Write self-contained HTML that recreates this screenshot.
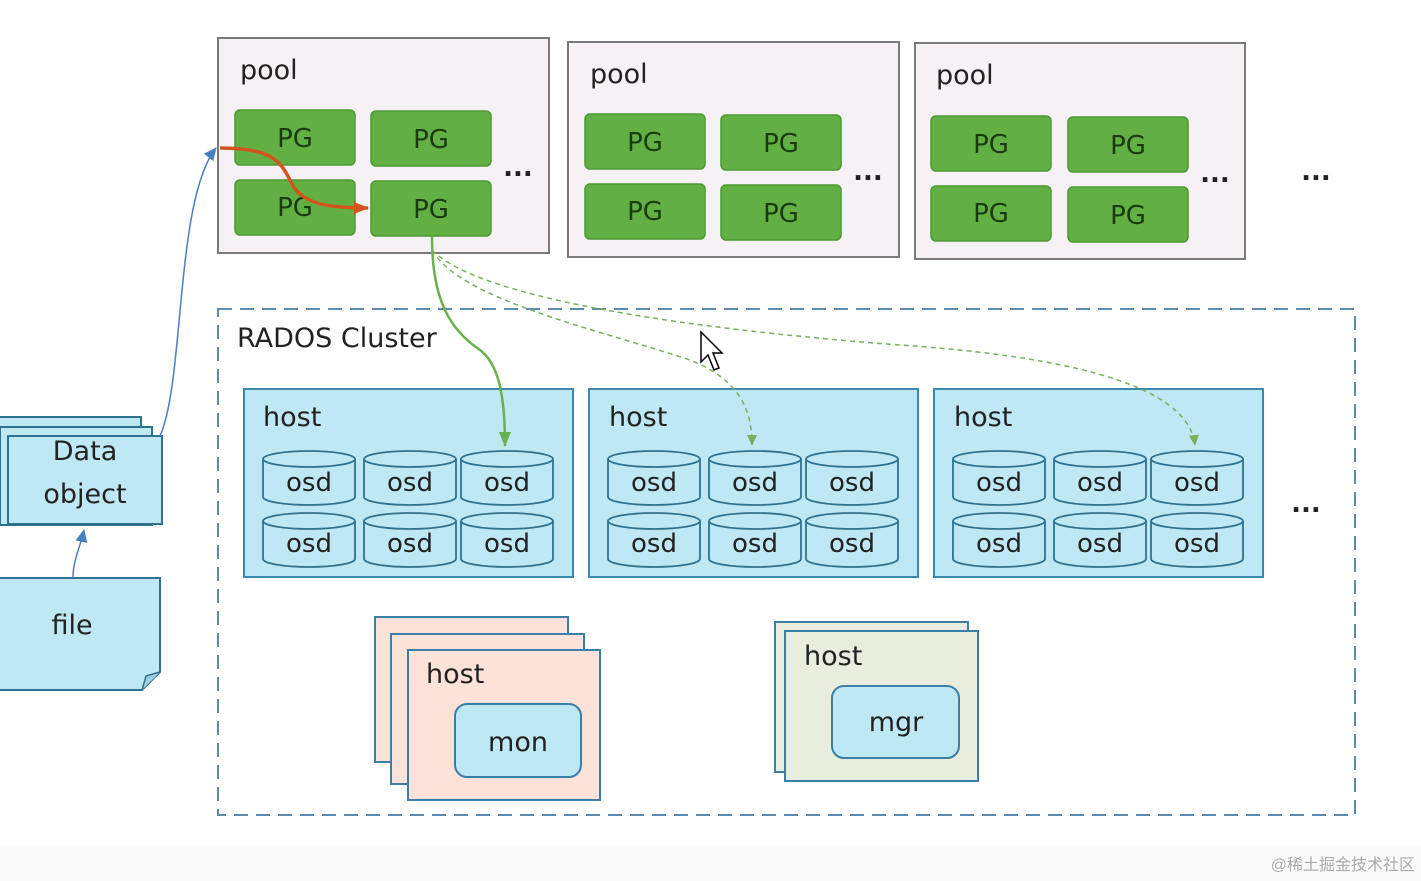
<!DOCTYPE html>
<html><head><meta charset="utf-8"><style>
body{margin:0;background:#fff;}
svg{display:block;font-family:"DejaVu Sans","Liberation Sans",sans-serif;}
</style></head><body>
<svg width="1421" height="881" viewBox="0 0 1421 881" xmlns="http://www.w3.org/2000/svg">
<defs>
<marker id="ab" markerUnits="userSpaceOnUse" markerWidth="14" markerHeight="14" refX="12" refY="7" orient="auto"><path d="M0,1 L13,7 L0,13 z" fill="#4a7fc0"/></marker>
<marker id="ao" markerUnits="userSpaceOnUse" markerWidth="16" markerHeight="16" refX="14" refY="8" orient="auto"><path d="M0,2 L15,8 L0,14 z" fill="#d2541e"/></marker>
<marker id="ag" markerUnits="userSpaceOnUse" markerWidth="16" markerHeight="16" refX="14" refY="8" orient="auto"><path d="M0,2 L15,8 L0,14 z" fill="#6ab04c"/></marker>
<marker id="ag2" markerUnits="userSpaceOnUse" markerWidth="12" markerHeight="12" refX="10" refY="6" orient="auto"><path d="M0,1 L11,6 L0,11 z" fill="#7ab05c"/></marker>
<g id="pg"><rect x="0" y="0" width="120" height="55" rx="5" fill="#62b043" stroke="#4a9a30" stroke-width="1.5"/></g>
<g id="osd">
<path d="M0,8 L0,46 A46,8 0 0 0 92,46 L92,8" fill="#bfe8f5" stroke="#2f7290" stroke-width="1.8"/>
<ellipse cx="46" cy="8" rx="46" ry="8" fill="#bfe8f5" stroke="#2f7290" stroke-width="1.8"/>
</g>
</defs>
<rect width="1421" height="881" fill="#fff"/>
<rect x="0" y="845" width="1421" height="36" fill="#fafafa"/>

<g font-size="27" fill="#222">
<rect x="218" y="38" width="331" height="215" fill="#f5f1f4" stroke="#7a7a7a" stroke-width="2"/>
<text x="240" y="79">pool</text>
<rect x="568" y="42" width="331" height="215" fill="#f5f1f4" stroke="#7a7a7a" stroke-width="2"/>
<text x="590" y="83">pool</text>
<rect x="915" y="43" width="330" height="216" fill="#f5f1f4" stroke="#7a7a7a" stroke-width="2"/>
<text x="936" y="84">pool</text>
</g>
<g font-size="26" fill="#1a3a10" text-anchor="middle">
<use href="#pg" x="235" y="110"/><text x="295" y="147">PG</text>
<use href="#pg" x="371" y="111"/><text x="431" y="148">PG</text>
<use href="#pg" x="235" y="180"/><text x="295" y="216">PG</text>
<use href="#pg" x="371" y="181"/><text x="431" y="218">PG</text>
<use href="#pg" x="585" y="114"/><text x="645" y="151">PG</text>
<use href="#pg" x="721" y="115"/><text x="781" y="152">PG</text>
<use href="#pg" x="585" y="184"/><text x="645" y="220">PG</text>
<use href="#pg" x="721" y="185"/><text x="781" y="222">PG</text>
<use href="#pg" x="931" y="116"/><text x="991" y="153">PG</text>
<use href="#pg" x="1068" y="117"/><text x="1128" y="154">PG</text>
<use href="#pg" x="931" y="186"/><text x="991" y="222">PG</text>
<use href="#pg" x="1068" y="187"/><text x="1128" y="224">PG</text>
</g>
<g font-size="26" font-weight="bold" fill="#222" text-anchor="middle">
<text x="518" y="176">...</text><text x="868" y="180">...</text><text x="1215" y="182">...</text><text x="1316" y="180">...</text><text x="1306" y="512">...</text>
</g>

<rect x="218" y="309" width="1137" height="506" fill="none" stroke="#5a8bb0" stroke-width="2" stroke-dasharray="14,8"/>
<text x="237" y="347" font-size="27" fill="#222">RADOS Cluster</text>

<g font-size="27" fill="#222">
<rect x="244" y="389" width="329" height="188" fill="#bfe8f5" stroke="#3a8ab0" stroke-width="2"/>
<text x="263" y="426">host</text>
<rect x="589" y="389" width="329" height="188" fill="#bfe8f5" stroke="#3a8ab0" stroke-width="2"/>
<text x="609" y="426">host</text>
<rect x="934" y="389" width="329" height="188" fill="#bfe8f5" stroke="#3a8ab0" stroke-width="2"/>
<text x="954" y="426">host</text>
</g>
<g font-size="26" fill="#222" text-anchor="middle">
<use href="#osd" x="263" y="451"/><text x="309" y="491">osd</text>
<use href="#osd" x="364" y="451"/><text x="410" y="491">osd</text>
<use href="#osd" x="461" y="451"/><text x="507" y="491">osd</text>
<use href="#osd" x="263" y="513"/><text x="309" y="552">osd</text>
<use href="#osd" x="364" y="513"/><text x="410" y="552">osd</text>
<use href="#osd" x="461" y="513"/><text x="507" y="552">osd</text>
<use href="#osd" x="608" y="451"/><text x="654" y="491">osd</text>
<use href="#osd" x="709" y="451"/><text x="755" y="491">osd</text>
<use href="#osd" x="806" y="451"/><text x="852" y="491">osd</text>
<use href="#osd" x="608" y="513"/><text x="654" y="552">osd</text>
<use href="#osd" x="709" y="513"/><text x="755" y="552">osd</text>
<use href="#osd" x="806" y="513"/><text x="852" y="552">osd</text>
<use href="#osd" x="953" y="451"/><text x="999" y="491">osd</text>
<use href="#osd" x="1054" y="451"/><text x="1100" y="491">osd</text>
<use href="#osd" x="1151" y="451"/><text x="1197" y="491">osd</text>
<use href="#osd" x="953" y="513"/><text x="999" y="552">osd</text>
<use href="#osd" x="1054" y="513"/><text x="1100" y="552">osd</text>
<use href="#osd" x="1151" y="513"/><text x="1197" y="552">osd</text>
</g>

<rect x="375" y="617" width="193" height="145" fill="#fde2da" stroke="#3a7fa8" stroke-width="2"/>
<rect x="391" y="634" width="193" height="150" fill="#fde2da" stroke="#3a7fa8" stroke-width="2"/>
<rect x="408" y="650" width="192" height="150" fill="#fde2da" stroke="#3a7fa8" stroke-width="2"/>
<text x="426" y="683" font-size="27" fill="#222">host</text>
<rect x="455" y="704" width="126" height="73" rx="12" fill="#bfe8f5" stroke="#3a7fa8" stroke-width="2"/>
<text x="518" y="751" font-size="27" fill="#222" text-anchor="middle">mon</text>

<rect x="775" y="622" width="193" height="150" fill="#e9edde" stroke="#3a7fa8" stroke-width="2"/>
<rect x="785" y="631" width="193" height="150" fill="#e9edde" stroke="#3a7fa8" stroke-width="2"/>
<text x="804" y="665" font-size="27" fill="#222">host</text>
<rect x="832" y="686" width="127" height="72" rx="12" fill="#bfe8f5" stroke="#3a7fa8" stroke-width="2"/>
<text x="896" y="731" font-size="27" fill="#222" text-anchor="middle">mgr</text>

<rect x="-5" y="417" width="146" height="98" fill="#bfe8f5" stroke="#2f7290" stroke-width="2"/>
<rect x="0" y="427" width="152" height="98" fill="#bfe8f5" stroke="#2f7290" stroke-width="2"/>
<rect x="8" y="436" width="154" height="88" fill="#bfe8f5" stroke="#2f7290" stroke-width="2"/>
<text x="85" y="460" font-size="27" fill="#222" text-anchor="middle">Data</text>
<text x="85" y="503" font-size="27" fill="#222" text-anchor="middle">object</text>
<path d="M-2,578 L160,578 L160,672 L142,690 L-2,690 Z" fill="#bfe8f5" stroke="#2f7290" stroke-width="2"/>
<path d="M142,690 L146,676 L160,672" fill="#9fd0e5" stroke="#2f7290" stroke-width="1.5"/>
<text x="72" y="634" font-size="27" fill="#222" text-anchor="middle">file</text>

<path d="M73,578 C73,560 80,548 84,530" fill="none" stroke="#4a7fc0" stroke-width="1.5" marker-end="url(#ab)"/>
<path d="M160,436 C185,380 175,200 216,148" fill="none" stroke="#4a7fc0" stroke-width="1.5" marker-end="url(#ab)"/>
<path d="M220,148 C270,148 280,160 290,180 C300,205 330,208 368,208" fill="none" stroke="#d2541e" stroke-width="3.5" marker-end="url(#ao)"/>
<path d="M432,237 C432,300 450,330 480,350 C500,365 505,400 505,446" fill="none" stroke="#6ab04c" stroke-width="2.5" marker-end="url(#ag)"/>
<path d="M432,250 C460,300 600,330 690,360 C740,380 752,410 752,445" fill="none" stroke="#7ab05c" stroke-width="1.5" stroke-dasharray="5,4" marker-end="url(#ag2)"/>
<path d="M432,250 C480,300 700,330 900,345 C1120,360 1190,400 1195,445" fill="none" stroke="#7ab05c" stroke-width="1.5" stroke-dasharray="5,4" marker-end="url(#ag2)"/>

<path d="M701,332 L701,362 L708,355 L714,370 L719,368 L713,353 L722,353 Z" fill="#fff" stroke="#000" stroke-width="1.5"/>
<text x="1415" y="870" font-size="16" fill="#aaa" text-anchor="end" font-family="Liberation Sans, Noto Sans CJK SC, sans-serif">@稀土掘金技术社区</text>
</svg>
</body></html>
